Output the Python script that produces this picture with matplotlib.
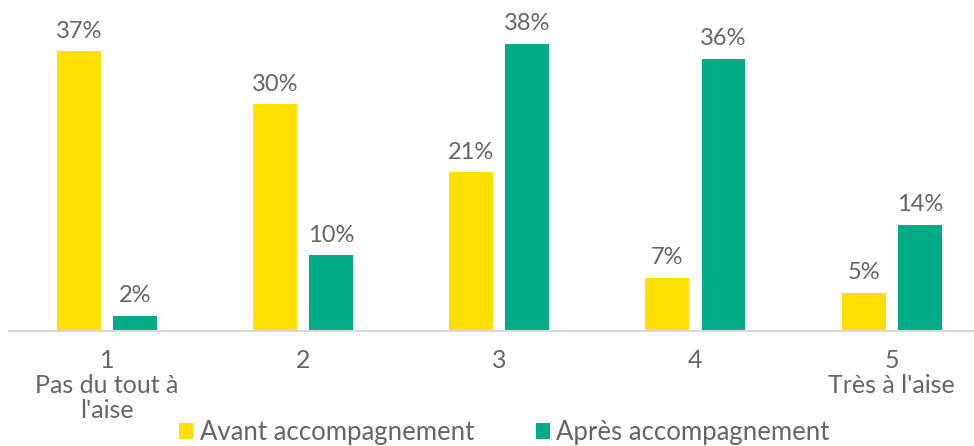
import numpy as np
import matplotlib.pyplot as plt

categories = ["1\nPas du tout à\nl'aise", "2", "3", "4", "5\nTrès à l'aise"]
avant = [37, 30, 21, 7, 5]
apres = [2, 10, 38, 36, 14]
series_names = ["Avant accompagnement", "Après accompagnement"]

YELLOW = "#FFE000"
GREEN = "#00AB86"
GREY = "#656565"

plt.rcParams['font.family'] = ['Lato', 'DejaVu Sans']

fig = plt.figure(figsize=(9.74, 4.46), dpi=100)
ax = fig.add_axes([9 / 974, 115 / 446, 965 / 974, 331 / 446])

x = np.arange(len(categories))
w = 0.224
off = 0.143
b1 = ax.bar(x - off, avant, w, color=YELLOW, label=series_names[0])
b2 = ax.bar(x + off, apres, w, color=GREEN, label=series_names[1])

for bars in (b1, b2):
    for rect in bars:
        h = rect.get_height()
        ax.annotate(f"{h:.0f}%", (rect.get_x() + rect.get_width() / 2, h),
                    xytext=(0, 7), textcoords="offset points",
                    ha="center", va="bottom", fontsize=17, color=GREY)

ax.set_xlim(-0.5, 4.42)
ax.set_ylim(0, 43.8)
ax.set_xticks(x)
ax.set_xticklabels(categories, fontsize=18, color=GREY, linespacing=1.1)
ax.tick_params(axis="x", length=0, pad=13)
ax.set_yticks([])
for side in ("left", "right", "top"):
    ax.spines[side].set_visible(False)
ax.spines["bottom"].set_color("#D9D9D9")
ax.spines["bottom"].set_linewidth(1.5)

leg = fig.legend(loc="lower center", bbox_to_anchor=(0.518, -0.05), ncol=2,
                 frameon=False, fontsize=18.5, handlelength=0.55, handleheight=0.55,
                 handletextpad=0.25, columnspacing=2.4, labelcolor=GREY)

fig.savefig("out.png", dpi=100)
